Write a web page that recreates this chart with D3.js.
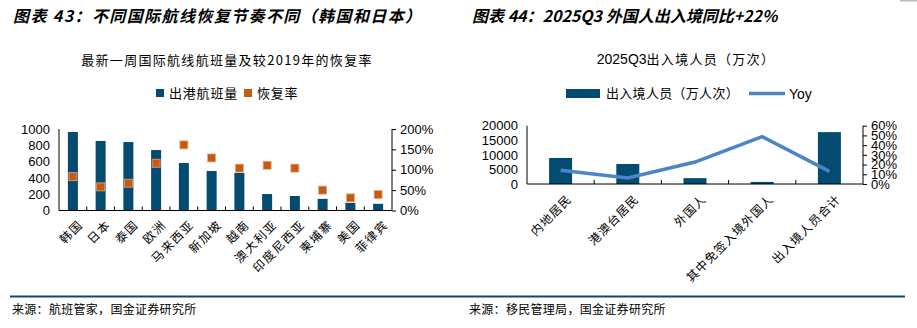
<!DOCTYPE html>
<html>
<head>
<meta charset="utf-8">
<script src="https://cdn.jsdelivr.net/npm/d3@7/dist/d3.min.js"></script>
<style>
  html, body { margin: 0; padding: 0; background: #fff; }
  svg { display: block; }
  text { font-family: "Liberation Sans", Arial, sans-serif; fill: #000; }
  .cjk { font-family: "Noto Sans CJK SC", sans-serif; }
</style>
</head>
<body>
<svg id="page" width="917" height="328"></svg>
<script>
// ---- Figure 43: weekly international departures and recovery vs 2019 ----
const routeCategories = ["韩国", "日本", "泰国", "欧洲", "马来西亚", "新加坡", "越南", "澳大利亚", "印度尼西亚", "柬埔寨", "美国", "菲律宾"];
const departures = [963, 853, 840, 742, 583, 485, 460, 202, 178, 143, 93, 82];
const recoveryRate = [83, 58, 67, 116, 161, 129, 104, 111, 104, 50, 31, 39];
const leftTicks = [0, 200, 400, 600, 800, 1000];
const rateTicks = [0, 50, 100, 150, 200];

// ---- Figure 44: 2025Q3 border crossings ----
const travelerCategories = ["内地居民", "港澳台居民", "外国人", "其中免签入境外国人", "出入境人员合计"];
const crossings = [8920, 6870, 2010, 720, 17800];
const yoy = [14.1, 6.2, 22.6, 48.7, 13.0];
const crossingTicks = [0, 5000, 10000, 15000, 20000];
const yoyTicks = [0, 10, 20, 30, 40, 50, 60];

const navy = "#034B70";
const orange = "#C55A11";
const lineBlue = "#4A86C6";
const plain = d3.format("d");

const svg = d3.select("#page");

// page header titles
svg.append("text").attr("x", 13).attr("y", 22)
  .attr("class", "cjk").style("font-size", "16px").style("font-weight", "bold").style("font-style", "italic")
  .style("letter-spacing", "1.4px")
  .text("图表 43：不同国际航线恢复节奏不同（韩国和日本）");
svg.append("text").attr("x", 472).attr("y", 22)
  .attr("class", "cjk").style("font-size", "16px").style("font-weight", "bold").style("font-style", "italic")
  .text("图表 44：2025Q3 外国人出入境同比+22%");
svg.append("rect").attr("x", 900).attr("y", 0).attr("width", 17).attr("height", 1.5).attr("fill", "#bbb");

// bottom rule and sources
svg.append("line").attr("x1", 10).attr("x2", 905).attr("y1", 296.5).attr("y2", 296.5)
  .attr("stroke", "#0B4B6E").attr("stroke-width", 2);
svg.append("text").attr("x", 12).attr("y", 314).attr("class", "cjk").style("font-size", "12px")
  .style("letter-spacing", "0.3px").text("来源：航班管家，国金证券研究所");
svg.append("text").attr("x", 469).attr("y", 314).attr("class", "cjk").style("font-size", "12px")
  .style("letter-spacing", "0.3px").text("来源：移民管理局，国金证券研究所");

function styleAxes(list, yTop, yBot, x0, x1, ba) {
  list.forEach(a => {
    a.select(".domain").attr("stroke", "#000").attr("stroke-width", 1);
    a.selectAll("text").style("font-size", "13px").style("font-family", "Liberation Sans, Arial, sans-serif").attr("fill", "#000");
    a.selectAll("line").attr("stroke", "#000");
  });
  list[0].select(".domain").attr("d", `M0,${yTop}V${yBot}`);
  list[1].select(".domain").attr("d", `M0,${yTop}V${yBot}`);
  ba.select(".domain").attr("d", `M${x0},0H${x1}`);
}

// ================= left chart =================
{
  const x0 = 59, x1 = 392, yTop = 129, yBot = 210.5;
  const x = d3.scaleBand().domain(routeCategories).range([x0, x1]);
  const y = d3.scaleLinear().domain([0, 1000]).range([yBot, yTop]);
  const yR = d3.scaleLinear().domain([0, 200]).range([yBot, yTop]);
  const g = svg.append("g");

  g.append("text").attr("x", 227).attr("y", 65).attr("text-anchor", "middle")
    .attr("class", "cjk").style("font-size", "13px").style("letter-spacing", "1.3px")
    .text("最新一周国际航线航班量及较2019年的恢复率");

  // legend
  g.append("rect").attr("x", 156).attr("y", 89).attr("width", 8).attr("height", 8).attr("fill", navy);
  g.append("text").attr("x", 169).attr("y", 98).attr("class", "cjk").style("font-size", "13px")
    .style("letter-spacing", "0.8px").text("出港航班量");
  g.append("rect").attr("x", 244).attr("y", 89).attr("width", 8).attr("height", 8).attr("fill", orange);
  g.append("text").attr("x", 257).attr("y", 98).attr("class", "cjk").style("font-size", "13px")
    .style("letter-spacing", "0.8px").text("恢复率");

  // bars
  const bw = 10;
  g.selectAll(".bar").data(departures).join("rect")
    .attr("x", (d, i) => x(routeCategories[i]) + x.bandwidth() / 2 - bw / 2)
    .attr("width", bw)
    .attr("y", d => y(d))
    .attr("height", d => yBot - y(d))
    .attr("fill", navy);

  // recovery markers
  const ms = 8;
  g.selectAll(".mk").data(recoveryRate).join("rect")
    .attr("x", (d, i) => x(routeCategories[i]) + x.bandwidth() / 2 - ms / 2)
    .attr("y", d => yR(d) - ms / 2)
    .attr("width", ms).attr("height", ms)
    .attr("fill", orange).attr("stroke", "#E9A77E").attr("stroke-width", 0.8);

  // axes
  const la = g.append("g").attr("transform", `translate(${x0},0)`)
    .call(d3.axisLeft(y).tickValues(leftTicks).tickFormat(plain).tickSize(0).tickPadding(9));
  const ra = g.append("g").attr("transform", `translate(${x1},0)`)
    .call(d3.axisRight(yR).tickValues(rateTicks).tickFormat(d => d + "%").tickSize(4).tickPadding(4));
  const ba = g.append("g").attr("transform", `translate(0,${yBot})`)
    .call(d3.axisBottom(x).tickSize(0).tickFormat(""));
  styleAxes([la, ra, ba], yTop, yBot, x0, x1, ba);

  // inner category separator ticks
  g.selectAll(".sep").data(routeCategories.slice(1)).join("line")
    .attr("x1", d => x(d)).attr("x2", d => x(d))
    .attr("y1", yBot).attr("y2", yBot - 4).attr("stroke", "#000");

  // rotated category labels
  g.selectAll(".cl").data(routeCategories).join("text")
    .attr("class", "cjk")
    .attr("text-anchor", "end")
    .style("font-size", "12px").style("letter-spacing", "1.5px")
    .attr("transform", d => `translate(${x(d) + x.bandwidth() / 2 + 5},${yBot + 9}) rotate(-45)`)
    .attr("dy", "0.7em")
    .text(d => d);
}

// ================= right chart =================
{
  const x0 = 527, x1 = 863, yTop = 125.7, yBot = 184;
  const x = d3.scaleBand().domain(travelerCategories).range([x0, x1]);
  const y = d3.scaleLinear().domain([0, 20000]).range([yBot, yTop]);
  const yR = d3.scaleLinear().domain([0, 60]).range([yBot, yTop]);
  const g = svg.append("g");

  g.append("text").attr("x", 686).attr("y", 64).attr("text-anchor", "middle")
    .style("font-size", "14px")
    .text("2025Q3").append("tspan").attr("class", "cjk").style("font-size", "13px")
    .style("letter-spacing", "1.3px").text("出入境人员（万次）");

  // legend
  g.append("rect").attr("x", 566).attr("y", 89).attr("width", 34).attr("height", 9).attr("fill", navy);
  g.append("text").attr("x", 606).attr("y", 98).attr("class", "cjk").style("font-size", "13px")
    .style("letter-spacing", "0.3px").text("出入境人员（万人次）");
  g.append("line").attr("x1", 749).attr("x2", 785).attr("y1", 93.5).attr("y2", 93.5)
    .attr("stroke", lineBlue).attr("stroke-width", 3.5);
  g.append("text").attr("x", 789).attr("y", 99).style("font-size", "14px").text("Yoy");

  const bw = 23;
  g.selectAll(".bar").data(crossings).join("rect")
    .attr("x", (d, i) => x(travelerCategories[i]) + x.bandwidth() / 2 - bw / 2)
    .attr("width", bw)
    .attr("y", d => y(d))
    .attr("height", d => yBot - y(d))
    .attr("fill", navy);

  const la = g.append("g").attr("transform", `translate(${x0},0)`)
    .call(d3.axisLeft(y).tickValues(crossingTicks).tickFormat(plain).tickSize(0).tickPadding(9));
  const ra = g.append("g").attr("transform", `translate(${x1},0)`)
    .call(d3.axisRight(yR).tickValues(yoyTicks).tickFormat(d => d + "%").tickSize(4).tickPadding(4));
  const ba = g.append("g").attr("transform", `translate(0,${yBot})`)
    .call(d3.axisBottom(x).tickSize(0).tickFormat(""));
  styleAxes([la, ra, ba], yTop, yBot, x0, x1, ba);

  g.selectAll(".sep").data(travelerCategories.slice(1)).join("line")
    .attr("x1", d => x(d)).attr("x2", d => x(d))
    .attr("y1", yBot).attr("y2", yBot - 4).attr("stroke", "#000");

  // yoy line
  const line = d3.line()
    .x((d, i) => x(travelerCategories[i]) + x.bandwidth() / 2)
    .y(d => yR(d));
  g.append("path").datum(yoy).attr("d", line)
    .attr("fill", "none").attr("stroke", lineBlue).attr("stroke-width", 3.5)
    .attr("stroke-linejoin", "miter");

  g.selectAll(".cl").data(travelerCategories).join("text")
    .attr("class", "cjk")
    .attr("text-anchor", "end")
    .style("font-size", "12px").style("letter-spacing", "1px")
    .attr("transform", d => `translate(${x(d) + x.bandwidth() / 2 + 6},${yBot + 10}) rotate(-45)`)
    .attr("dy", "0.7em")
    .text(d => d);
}
</script>
</body>
</html>
